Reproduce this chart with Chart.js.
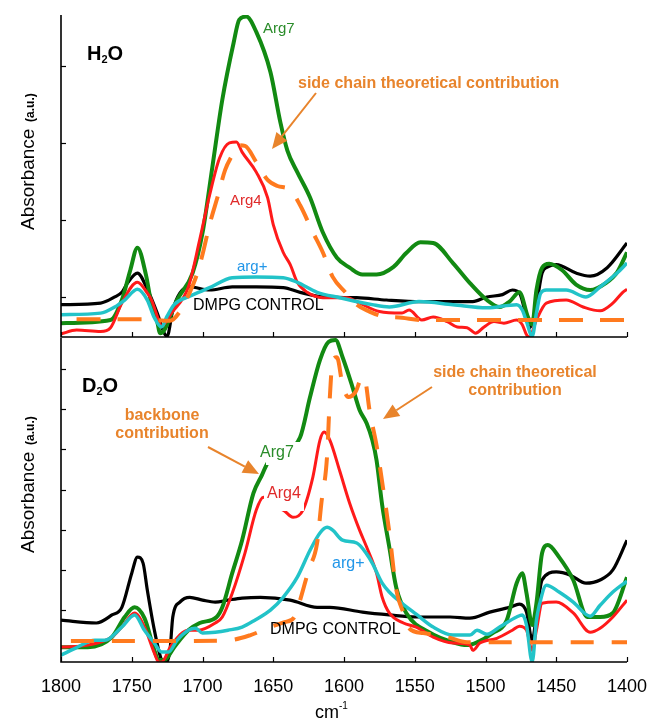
<!DOCTYPE html>
<html>
<head>
<meta charset="utf-8">
<script src="https://cdn.jsdelivr.net/npm/chart.js@4.4.1/dist/chart.umd.min.js"></script>
<style>
  html, body { margin: 0; padding: 0; background: #fff; }
  #wrap { position: relative; width: 651px; height: 720px; overflow: hidden; background: #fff; }
  canvas { position: absolute; left: 0; }
  #h2o { top: 0; }
  #d2o { top: 330px; }
</style>
</head>
<body>
<div id="wrap">
  <canvas id="h2o" width="651" height="345"></canvas>
  <canvas id="d2o" width="651" height="390"></canvas>
</div>
<script>
// Wavenumber axis (cm-1), drawn from high to low
const wavenumberTicks = [1800, 1750, 1700, 1650, 1600, 1550, 1500, 1450, 1400];
const h2oAbsTicks = [0, 0.1, 0.2, 0.3];
const d2oAbsTicks = [0, 0.1, 0.2, 0.3, 0.4, 0.5, 0.6];

// ---- H2O spectra: [wavenumber, absorbance (a.u.)] ----
const h2oControl = [[1800,-0.010],[1772,-0.008],[1762,0.000],[1757,0.006],[1753,0.018],[1746,0.031],[1739,0.010],[1732,-0.021],[1727,-0.047],[1725,-0.051],[1721,-0.017],[1716,0.005],[1709,0.013],[1695,0.009],[1679,0.013],[1662,0.013],[1643,0.012],[1631,0.006],[1615,0.000],[1591,-0.001],[1570,-0.004],[1546,-0.006],[1523,-0.006],[1509,-0.006],[1499,0.000],[1488,0.003],[1481,0.009],[1476,0.005],[1471,-0.027],[1469,-0.040],[1464,-0.010],[1460,0.031],[1456,0.039],[1450,0.042],[1436,0.031],[1426,0.027],[1414,0.038],[1400,0.070]];
const h2oArg7 = [[1800,-0.034],[1765,-0.030],[1757,-0.004],[1751,0.035],[1746,0.064],[1740,0.029],[1736,-0.010],[1732,-0.032],[1730,-0.047],[1727,-0.043],[1718,-0.004],[1707,0.031],[1700,0.083],[1693,0.169],[1686,0.256],[1678,0.330],[1674,0.360],[1669,0.364],[1662,0.344],[1652,0.292],[1645,0.227],[1640,0.190],[1633,0.162],[1624,0.129],[1615,0.084],[1605,0.051],[1596,0.038],[1587,0.029],[1577,0.029],[1565,0.039],[1556,0.057],[1546,0.071],[1537,0.070],[1523,0.044],[1511,0.018],[1499,-0.004],[1490,-0.013],[1483,-0.006],[1476,0.006],[1470,-0.026],[1467,-0.036],[1464,0.009],[1460,0.038],[1455,0.043],[1446,0.035],[1436,0.016],[1426,0.009],[1415,0.018],[1407,0.032],[1400,0.058]];
const h2oArg4 = [[1800,-0.048],[1789,-0.043],[1772,-0.045],[1765,-0.040],[1757,-0.008],[1746,0.019],[1739,0.005],[1736,-0.004],[1731,-0.030],[1729,-0.038],[1722,-0.021],[1710,0.013],[1702,0.074],[1695,0.132],[1688,0.180],[1681,0.200],[1676,0.201],[1672,0.188],[1662,0.162],[1654,0.129],[1650,0.094],[1643,0.058],[1638,0.042],[1633,0.019],[1626,0.006],[1615,-0.001],[1598,-0.001],[1589,-0.008],[1575,-0.019],[1559,-0.021],[1554,-0.017],[1545,-0.030],[1537,-0.026],[1527,-0.032],[1520,-0.039],[1513,-0.040],[1507,-0.047],[1501,-0.039],[1494,-0.032],[1487,-0.034],[1478,-0.030],[1474,-0.036],[1471,-0.049],[1469,-0.052],[1464,-0.030],[1457,-0.008],[1443,-0.004],[1431,-0.013],[1419,-0.018],[1410,-0.008],[1403,0.006],[1400,0.010]];
const h2oArgPlus = [[1800,-0.023],[1772,-0.021],[1762,-0.013],[1755,-0.004],[1746,0.010],[1739,-0.004],[1734,-0.027],[1729,-0.039],[1725,-0.025],[1720,-0.010],[1709,0.001],[1695,0.012],[1679,0.025],[1662,0.026],[1643,0.025],[1633,0.019],[1619,0.006],[1603,-0.001],[1580,-0.010],[1568,-0.013],[1547,-0.006],[1523,-0.010],[1499,-0.014],[1478,-0.010],[1474,-0.017],[1471,-0.032],[1467,-0.051],[1464,-0.021],[1461,0.005],[1457,0.009],[1443,0.009],[1429,0.000],[1419,0.013],[1407,0.031],[1400,0.044]];
const h2oSideChain = [[1789,-0.029],[1741,-0.029],[1723,-0.031],[1716,-0.019],[1709,0.006],[1704,0.029],[1700,0.055],[1695,0.094],[1689,0.132],[1684,0.165],[1679,0.184],[1675,0.197],[1670,0.196],[1662,0.175],[1654,0.152],[1647,0.144],[1638,0.139],[1631,0.119],[1622,0.084],[1615,0.058],[1608,0.026],[1599,0.006],[1591,-0.010],[1582,-0.019],[1573,-0.025],[1559,-0.027],[1546,-0.030],[1400,-0.030]];

// ---- D2O spectra ----
const d2oControl = [[1800,-0.025],[1775,-0.032],[1764,-0.012],[1757,0.007],[1750,0.092],[1746,0.132],[1742,0.117],[1739,0.050],[1734,-0.050],[1729,-0.124],[1727,-0.132],[1723,-0.100],[1721,-0.017],[1716,0.020],[1709,0.032],[1700,0.025],[1691,0.020],[1682,0.025],[1672,0.030],[1659,0.032],[1638,0.025],[1619,0.007],[1610,0.007],[1587,-0.005],[1568,-0.012],[1549,-0.017],[1525,-0.017],[1511,-0.020],[1497,-0.005],[1483,0.007],[1476,0.015],[1471,-0.005],[1467,-0.075],[1464,-0.012],[1460,0.075],[1450,0.095],[1440,0.087],[1429,0.067],[1419,0.075],[1410,0.100],[1400,0.174]];
const d2oArg7 = [[1800,-0.092],[1781,-0.092],[1764,-0.067],[1755,-0.017],[1748,0.007],[1741,-0.020],[1734,-0.100],[1731,-0.124],[1727,-0.124],[1720,-0.092],[1710,-0.050],[1702,-0.032],[1690,-0.017],[1686,0.007],[1679,0.092],[1672,0.174],[1664,0.291],[1658,0.336],[1654,0.366],[1642,0.398],[1631,0.430],[1624,0.530],[1617,0.622],[1611,0.667],[1606,0.672],[1601,0.629],[1594,0.555],[1589,0.498],[1584,0.465],[1580,0.423],[1577,0.373],[1573,0.261],[1568,0.157],[1563,0.055],[1556,-0.007],[1539,-0.057],[1523,-0.080],[1513,-0.087],[1506,-0.080],[1495,-0.057],[1485,-0.025],[1478,0.067],[1474,0.092],[1471,0.042],[1467,-0.037],[1464,0.017],[1460,0.142],[1456,0.162],[1448,0.132],[1438,0.075],[1428,-0.017],[1419,-0.017],[1410,-0.007],[1400,0.082]];
const d2oArg4 = [[1800,-0.092],[1781,-0.087],[1764,-0.067],[1757,-0.042],[1748,-0.007],[1741,-0.042],[1734,-0.107],[1731,-0.129],[1729,-0.129],[1722,-0.087],[1710,-0.050],[1703,-0.050],[1691,-0.032],[1686,-0.017],[1679,0.042],[1670,0.142],[1662,0.249],[1657,0.281],[1650,0.256],[1643,0.249],[1636,0.231],[1629,0.249],[1622,0.331],[1617,0.423],[1614,0.443],[1610,0.423],[1603,0.346],[1596,0.266],[1589,0.199],[1584,0.157],[1577,0.092],[1573,0.032],[1568,-0.007],[1558,-0.032],[1549,-0.042],[1537,-0.067],[1523,-0.082],[1511,-0.087],[1509,-0.100],[1504,-0.082],[1492,-0.070],[1481,-0.050],[1476,-0.040],[1471,-0.050],[1467,-0.100],[1464,-0.050],[1460,0.017],[1450,0.020],[1438,-0.007],[1426,-0.055],[1419,-0.045],[1410,-0.017],[1400,0.025]];
const d2oArgPlus = [[1800,-0.112],[1790,-0.095],[1776,-0.075],[1769,-0.075],[1757,-0.042],[1748,-0.012],[1741,-0.050],[1734,-0.082],[1729,-0.104],[1724,-0.104],[1718,-0.075],[1710,-0.050],[1705,-0.045],[1700,-0.057],[1691,-0.055],[1682,-0.050],[1672,-0.042],[1663,-0.025],[1652,0.000],[1643,0.032],[1633,0.082],[1624,0.149],[1617,0.192],[1612,0.206],[1608,0.199],[1601,0.174],[1591,0.167],[1584,0.140],[1580,0.117],[1573,0.067],[1568,0.045],[1559,0.017],[1549,-0.010],[1537,-0.042],[1523,-0.062],[1511,-0.062],[1506,-0.050],[1499,-0.060],[1490,-0.042],[1478,-0.017],[1474,-0.012],[1471,-0.037],[1467,-0.129],[1464,-0.025],[1462,0.012],[1457,0.062],[1448,0.045],[1438,0.020],[1426,-0.015],[1419,0.012],[1410,0.045],[1400,0.072]];
const d2oSideChain = [[1793,-0.077],[1729,-0.077],[1682,-0.075],[1666,-0.062],[1652,-0.042],[1642,-0.030],[1635,-0.017],[1631,0.025],[1625,0.100],[1619,0.167],[1616,0.266],[1612,0.381],[1610,0.530],[1608,0.622],[1605,0.629],[1601,0.560],[1597,0.530],[1592,0.542],[1587,0.580],[1585,0.572],[1582,0.498],[1577,0.410],[1573,0.318],[1568,0.194],[1563,0.050],[1558,-0.007],[1554,-0.045],[1544,-0.057],[1527,-0.067],[1513,-0.080],[1400,-0.080]];

const FONT = '"Liberation Sans", Arial, Helvetica, sans-serif';
const C = {
  control: '#000000', arg7: '#128a12', arg4: '#ff1a1a', argPlus: '#22c3c8', side: '#ff7a1e',
  arg7Text: '#2a8c2a', arg4Text: '#e02a2a', argPlusText: '#2196e8', sideText: '#e8842c'
};

function series(points, color, width, order, dash) {
  return {
    data: points.map(([x, y]) => ({ x, y })),
    borderColor: color,
    borderWidth: width,
    borderDash: dash || [],
    borderCapStyle: 'butt',
    borderJoinStyle: 'round',
    pointRadius: 0,
    fill: false,
    cubicInterpolationMode: 'monotone',
    order
  };
}

function drawParts(ctx, parts, x, y, opt) {
  let w = 0;
  parts.forEach(p => { ctx.font = p.font; p.w = ctx.measureText(p.t).width; w += p.w; });
  ctx.save();
  ctx.translate(x, y);
  if (opt.rotate) ctx.rotate(opt.rotate);
  let cx = opt.align === 'center' ? -w / 2 : 0;
  ctx.textBaseline = 'alphabetic';
  ctx.textAlign = 'left';
  parts.forEach(p => {
    ctx.font = p.font;
    ctx.fillStyle = p.color || opt.color;
    ctx.fillText(p.t, cx, p.dy || 0);
    cx += p.w;
  });
  ctx.restore();
}

function drawArrow(ctx, x0, y0, x1, y1, color) {
  const ang = Math.atan2(y1 - y0, x1 - x0);
  const head = 16, half = 7;
  const bx = x1 - head * Math.cos(ang), by = y1 - head * Math.sin(ang);
  ctx.save();
  ctx.strokeStyle = color; ctx.fillStyle = color; ctx.lineWidth = 2;
  ctx.beginPath(); ctx.moveTo(x0, y0); ctx.lineTo(bx, by); ctx.stroke();
  ctx.beginPath();
  ctx.moveTo(x1, y1);
  ctx.lineTo(bx + half * Math.sin(ang), by - half * Math.cos(ang));
  ctx.lineTo(bx - half * Math.sin(ang), by + half * Math.cos(ang));
  ctx.closePath(); ctx.fill();
  ctx.restore();
}

// Axes with inward ticks, annotation texts and arrows for one panel
function panelDecor(cfg) {
  return {
    id: 'panelDecor',
    afterDatasetsDraw(chart) {
      const ctx = chart.ctx, a = chart.chartArea;
      const xs = chart.scales.x, ys = chart.scales.y;
      ctx.save();
      (cfg.boxes || []).forEach(b => { ctx.fillStyle = '#fff'; ctx.fillRect(b[0], b[1], b[2], b[3]); });
      ctx.strokeStyle = '#000';
      ctx.lineWidth = 1.6;
      ctx.beginPath();
      ctx.moveTo(a.left, a.top); ctx.lineTo(a.left, a.bottom); ctx.lineTo(a.right, a.bottom);
      ctx.stroke();
      ctx.lineWidth = 1.2;
      cfg.yTicks.forEach(v => {
        const p = Math.round(ys.getPixelForValue(v)) + 0.5;
        ctx.beginPath(); ctx.moveTo(a.left, p); ctx.lineTo(a.left + 5, p); ctx.stroke();
      });
      wavenumberTicks.forEach(v => {
        const p = Math.round(xs.getPixelForValue(v)) + 0.5;
        ctx.beginPath(); ctx.moveTo(p, a.bottom); ctx.lineTo(p, a.bottom - 5); ctx.stroke();
      });
      cfg.labels.forEach(l => drawParts(ctx, l.parts, l.x, l.y, l));
      cfg.arrows.forEach(r => drawArrow(ctx, r[0], r[1], r[2], r[3], C.sideText));
      ctx.restore();
    }
  };
}

const ABS_LABEL = [
  { t: 'Absorbance', font: '19px ' + FONT },
  { t: '  ', font: '12px ' + FONT },
  { t: '(a.u.)', font: 'bold 12px ' + FONT }
];

const base = (yMin, yMax, pad, xAxis) => ({
  type: 'line',
  options: {
    responsive: false,
    animation: false,
    events: [],
    layout: { padding: pad },
    plugins: { legend: { display: false }, tooltip: { enabled: false } },
    scales: {
      x: Object.assign({ type: 'linear', min: 1400, max: 1800, reverse: true }, xAxis),
      y: { type: 'linear', min: yMin, max: yMax, display: false }
    }
  }
});

// ---- H2O panel ----
const topCfg = base(-0.052, 0.366, { left: 61, right: 24, top: 15, bottom: 8 }, { display: false });
topCfg.data = {
  datasets: [
    series(h2oSideChain, C.side, 4, 0, [24, 17]),
    series(h2oArgPlus, C.argPlus, 3.5, 1),
    series(h2oArg4, C.arg4, 3, 2),
    series(h2oArg7, C.arg7, 4, 3),
    series(h2oControl, C.control, 3.2, 4)
  ]
};
topCfg.plugins = [panelDecor({
  yTicks: h2oAbsTicks,
  labels: [
    { x: 87, y: 60, color: '#000', parts: [
      { t: 'H', font: 'bold 20px ' + FONT }, { t: '2', font: 'bold 11px ' + FONT, dy: 3 }, { t: 'O', font: 'bold 20px ' + FONT }] },
    { x: 34, y: 230, rotate: -Math.PI / 2, color: '#000', parts: ABS_LABEL },
    { x: 263, y: 33, color: C.arg7Text, parts: [{ t: 'Arg7', font: '15px ' + FONT }] },
    { x: 298, y: 88, color: C.sideText, parts: [{ t: 'side chain theoretical contribution', font: 'bold 16px ' + FONT }] },
    { x: 230, y: 205, color: C.arg4Text, parts: [{ t: 'Arg4', font: '15px ' + FONT }] },
    { x: 237, y: 271, color: C.argPlusText, parts: [{ t: 'arg+', font: '15px ' + FONT }] },
    { x: 193, y: 310, color: '#000', parts: [{ t: 'DMPG CONTROL', font: '16px ' + FONT }] }
  ],
  arrows: [[316, 93, 272, 149]]
})];
new Chart(document.getElementById('h2o'), topCfg);

// ---- D2O panel ----
const botCfg = base(-0.129, 0.677, { left: 61, right: 24, top: 8, bottom: 0 }, {
  display: true,
  grid: { display: false, drawTicks: false },
  border: { display: false },
  afterBuildTicks: s => { s.ticks = wavenumberTicks.map(v => ({ value: v })); },
  afterFit: s => { s.height = 58; s.paddingLeft = 0; s.paddingRight = 0; },
  ticks: {
    color: '#000',
    padding: 14,
    maxRotation: 0,
    autoSkip: false,
    font: { family: FONT, size: 18 },
    callback: v => String(v)
  }
});
botCfg.data = {
  datasets: [
    series(d2oSideChain, C.side, 4, 0, [23, 18]),
    series(d2oArgPlus, C.argPlus, 3.5, 1),
    series(d2oArg4, C.arg4, 3, 2),
    series(d2oArg7, C.arg7, 4, 3),
    series(d2oControl, C.control, 3.2, 4)
  ]
};
botCfg.plugins = [panelDecor({
  yTicks: d2oAbsTicks,
  boxes: [[266, 112, 34, 23], [264, 154, 40, 27]],
  labels: [
    { x: 82, y: 62, color: '#000', parts: [
      { t: 'D', font: 'bold 20px ' + FONT }, { t: '2', font: 'bold 11px ' + FONT, dy: 3 }, { t: 'O', font: 'bold 20px ' + FONT }] },
    { x: 34, y: 223, rotate: -Math.PI / 2, color: '#000', parts: ABS_LABEL },
    { x: 162, y: 90, align: 'center', color: C.sideText, parts: [{ t: 'backbone', font: 'bold 16px ' + FONT }] },
    { x: 162, y: 108, align: 'center', color: C.sideText, parts: [{ t: 'contribution', font: 'bold 16px ' + FONT }] },
    { x: 515, y: 47, align: 'center', color: C.sideText, parts: [{ t: 'side chain theoretical', font: 'bold 16px ' + FONT }] },
    { x: 515, y: 65, align: 'center', color: C.sideText, parts: [{ t: 'contribution', font: 'bold 16px ' + FONT }] },
    { x: 260, y: 127, color: C.arg7Text, parts: [{ t: 'Arg7', font: '16px ' + FONT }] },
    { x: 267, y: 168, color: C.arg4Text, parts: [{ t: 'Arg4', font: '16px ' + FONT }] },
    { x: 332, y: 238, color: C.argPlusText, parts: [{ t: 'arg+', font: '16px ' + FONT }] },
    { x: 270, y: 304, color: '#000', parts: [{ t: 'DMPG CONTROL', font: '16px ' + FONT }] },
    { x: 315, y: 388, color: '#000', parts: [
      { t: 'cm', font: '18px ' + FONT }, { t: '-1', font: '10px ' + FONT, dy: -9 }] }
  ],
  arrows: [[208, 117, 259, 144], [432, 57, 383, 89]]
})];
new Chart(document.getElementById('d2o'), botCfg);
</script>
</body>
</html>
